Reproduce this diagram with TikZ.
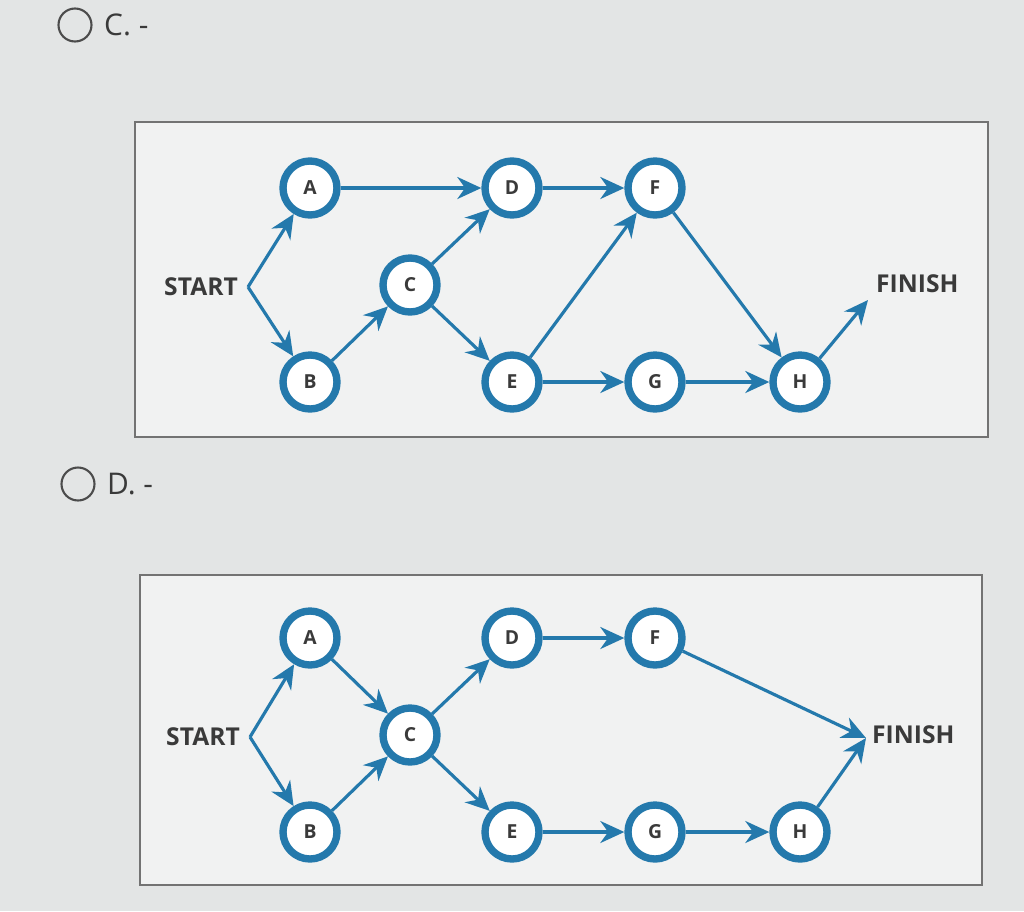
\documentclass[tikz,border=0pt]{standalone}
\usepackage{fontspec}
\setmainfont{Open Sans}
\usetikzlibrary{arrows.meta}
\definecolor{bg}{HTML}{E3E5E5}
\definecolor{nb}{HTML}{2479AC}
\definecolor{tx}{HTML}{3A3A3A}
\tikzset{
 ev/.style={circle,draw=nb,line width=2.1pt,fill=white,minimum size=5.4mm,inner sep=0pt,font=\fontsize{5.5}{6}\selectfont\bfseries,text=tx},
 ar/.style={draw=nb,line width=0.9pt,-{Stealth[length=2.4mm,width=2.2mm]}},
 lab/.style={font=\fontsize{7}{8}\selectfont\bfseries,text=tx,inner sep=1pt},
 frame/.style={draw=black!55,line width=0.5pt,fill=white!50!bg}
}
\begin{document}
\begin{tikzpicture}[x=0.1mm,y=-0.1mm]
\fill[bg] (0,0) rectangle (1024,911);
\useasboundingbox (0,0) rectangle (1024,911);
% radio options
\node[circle,draw=black!70,line width=0.6pt,minimum size=3.3mm,inner sep=0pt] (r1) at (75,25) {};
\node[anchor=west,font=\fontsize{8.5}{9}\selectfont,text=tx,inner sep=1pt] (t1) at (100,25) {C. -};
\node[circle,draw=black!70,line width=0.6pt,minimum size=3.3mm,inner sep=0pt] (r2) at (78,484) {};
\node[anchor=west,font=\fontsize{8.5}{9}\selectfont,text=tx,inner sep=1pt] (t2) at (103,484) {D. -};
% ---- Diagram C
\draw[frame] (135,122) rectangle (988,437);
\node[ev] (cA) at (310,188) {A};
\node[ev] (cD) at (512,188) {D};
\node[ev] (cF) at (655,188) {F};
\node[ev] (cC) at (410,285) {C};
\node[ev] (cB) at (310,382) {B};
\node[ev] (cE) at (512,382) {E};
\node[ev] (cG) at (655,382) {G};
\node[ev] (cH) at (800,382) {H};
\node[lab,anchor=east] (cS) at (242,287) {START};
\coordinate (cs) at (248,287);
\node[lab,anchor=west] (cFi) at (872,284) {FINISH};
\coordinate (cf) at (868,300);
\draw[ar] (cs) -- (cA);
\draw[ar] (cs) -- (cB);
\draw[ar] (cA) -- (cD);
\draw[ar] (cB) -- (cC);
\draw[ar] (cC) -- (cD);
\draw[ar] (cC) -- (cE);
\draw[ar] (cD) -- (cF);
\draw[ar] (cE) -- (cF);
\draw[ar] (cE) -- (cG);
\draw[ar] (cF) -- (cH);
\draw[ar] (cG) -- (cH);
\draw[ar] (cH) -- (cf);
% ---- Diagram D
\draw[frame] (140,575) rectangle (982,885);
\node[ev] (dA) at (310,638) {A};
\node[ev] (dD) at (512,638) {D};
\node[ev] (dF) at (655,638) {F};
\node[ev] (dC) at (410,735) {C};
\node[ev] (dB) at (310,832) {B};
\node[ev] (dE) at (512,832) {E};
\node[ev] (dG) at (655,832) {G};
\node[ev] (dH) at (800,832) {H};
\node[lab,anchor=east] (dS) at (244,737) {START};
\coordinate (ds) at (250,737);
\node[lab,anchor=west] (dFi) at (868,735) {FINISH};
\coordinate (df) at (866,738);
\draw[ar] (ds) -- (dA);
\draw[ar] (ds) -- (dB);
\draw[ar] (dA) -- (dC);
\draw[ar] (dB) -- (dC);
\draw[ar] (dC) -- (dD);
\draw[ar] (dC) -- (dE);
\draw[ar] (dD) -- (dF);
\draw[ar] (dE) -- (dG);
\draw[ar] (dG) -- (dH);
\draw[ar] (dF) -- (df);
\draw[ar] (dH) -- (df);
\end{tikzpicture}
\end{document}
